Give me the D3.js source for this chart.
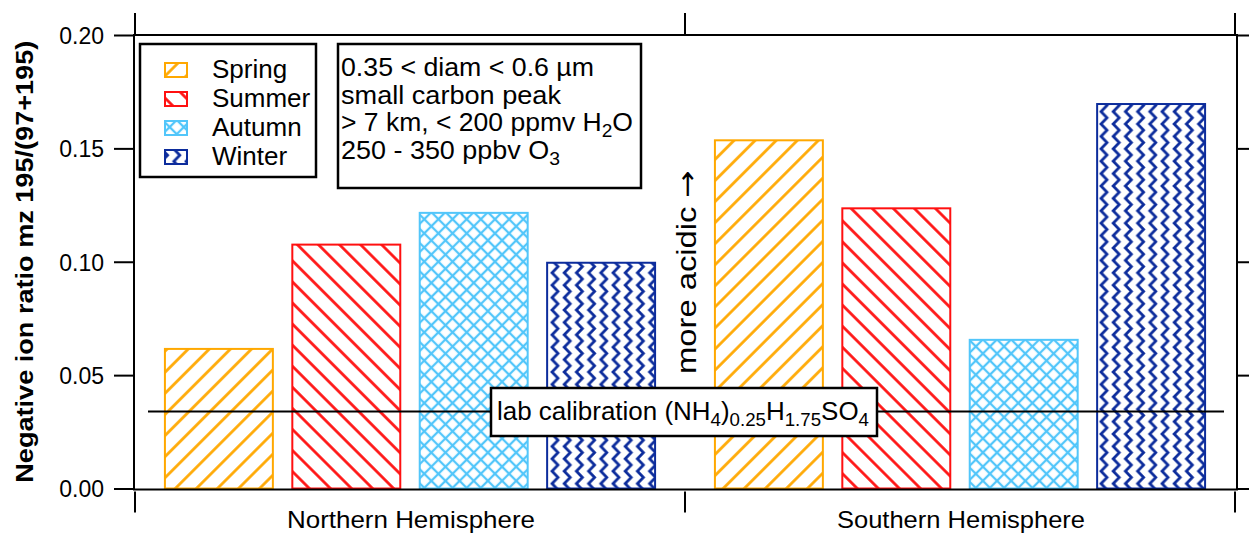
<!DOCTYPE html>
<html>
<head>
<meta charset="utf-8">
<script src="https://cdn.jsdelivr.net/npm/d3@7"></script>
<style>
  body { margin: 0; background: #fff; }
  svg { display: block; }
  text { font-family: "Liberation Sans", Arial, Helvetica, sans-serif; fill: #000; }
</style>
</head>
<body>
<svg id="chart" width="1249" height="534"></svg>
<script>
// ---- data ----
const hemispheres = ["Northern Hemisphere", "Southern Hemisphere"];
const seasons = ["Spring", "Summer", "Autumn", "Winter"];
const northernRatio = [0.062, 0.108, 0.122, 0.100];
const southernRatio = [0.154, 0.124, 0.066, 0.170];
const yTickValues = [0, 0.05, 0.10, 0.15, 0.20];
const yTickLabels = ["0.00", "0.05", "0.10", "0.15", "0.20"];
const calibrationRatio = 0.034;
const selectionNotes = [
  [["0.35 < diam < 0.6 µm", false]],
  [["small carbon peak", false]],
  [["> 7 km, < 200 ppmv H", false], ["2", true], ["O", false]],
  [["250 - 350 ppbv O", false], ["3", true]]
];
const calibrationLabel = [["lab calibration (NH", false], ["4", true], [")", false],
  ["0.25", true], ["H", false], ["1.75", true], ["SO", false], ["4", true]];

// ---- styling ----
const seasonColors = ["#FFA800", "#FF1010", "#52C6FA", "#0C2C9C"];
const seasonPatterns = ["hatch-up", "hatch-down", "cross", "zigzag"];

const svg = d3.select("#chart");
const frame = { left: 134, right: 1237, top: 35, bottom: 489.5 };

const x0 = d3.scaleBand().domain(hemispheres).range([135, 1235]).padding(0);
const x1 = d3.scaleBand().domain(seasons).range([0, x0.bandwidth()])
  .paddingInner(0.137).paddingOuter(0.227);
const y = d3.scaleLinear().domain([0, 0.2]).range([488.5, 35]);

const rows = [];
hemispheres.forEach((h, hi) => {
  const vals = hi === 0 ? northernRatio : southernRatio;
  seasons.forEach((s, si) => rows.push({ hemisphere: h, season: s, value: vals[si], idx: si }));
});

// ---- fill patterns ----
const defs = svg.append("defs");
function linePattern(id, color, spacing, angle, width) {
  const p = defs.append("pattern").attr("id", id)
    .attr("patternUnits", "userSpaceOnUse")
    .attr("width", spacing).attr("height", spacing)
    .attr("patternTransform", `rotate(${angle})`);
  p.append("line").attr("x1", spacing / 2).attr("x2", spacing / 2)
    .attr("y1", -1).attr("y2", spacing + 1)
    .attr("stroke", color).attr("stroke-width", width);
  return p;
}
linePattern("hatch-up", seasonColors[0], 14.9, 45, 2.7);
linePattern("hatch-down", seasonColors[1], 14.9, -45, 2.7);
{
  const s = 10;
  const p = defs.append("pattern").attr("id", "cross")
    .attr("patternUnits", "userSpaceOnUse")
    .attr("width", s).attr("height", s)
    .attr("patternTransform", "rotate(45)");
  p.append("line").attr("x1", s / 2).attr("x2", s / 2).attr("y1", -1).attr("y2", s + 1)
    .attr("stroke", seasonColors[2]).attr("stroke-width", 2.3);
  p.append("line").attr("y1", s / 2).attr("y2", s / 2).attr("x1", -1).attr("x2", s + 1)
    .attr("stroke", seasonColors[2]).attr("stroke-width", 2.3);
}
{
  const w = 12.2, h = 12.4;
  const p = defs.append("pattern").attr("id", "zigzag")
    .attr("patternUnits", "userSpaceOnUse")
    .attr("width", w).attr("height", h);
  p.append("path")
    .attr("d", `M9,${-h / 2} L3,0 L9,${h / 2} L3,${h} L9,${h * 1.5}`)
    .attr("fill", "none").attr("stroke", seasonColors[3])
    .attr("stroke-width", 2.8).attr("stroke-linejoin", "miter");
}

// ---- bars ----
svg.append("g").selectAll("rect").data(rows).join("rect")
  .attr("x", d => x0(d.hemisphere) + x1(d.season) + 1)
  .attr("y", d => y(d.value) + 1)
  .attr("width", x1.bandwidth() - 2)
  .attr("height", d => y(0) - y(d.value) - 1)
  .attr("fill", d => `url(#${seasonPatterns[d.idx]})`)
  .attr("stroke", d => seasonColors[d.idx])
  .attr("stroke-width", 2);

// ---- frame and axes ----
svg.append("rect")
  .attr("x", frame.left).attr("y", frame.top)
  .attr("width", frame.right - frame.left).attr("height", frame.bottom - frame.top)
  .attr("fill", "none").attr("stroke", "#000").attr("stroke-width", 2);

const yAxis = d3.axisLeft(y).tickValues(yTickValues)
  .tickFormat((d, i) => yTickLabels[i]).tickSize(20).tickPadding(10).tickSizeOuter(0);
const gy = svg.append("g").attr("transform", `translate(${frame.left},0)`).call(yAxis);
gy.select(".domain").remove();
gy.selectAll(".tick line").attr("stroke", "#000").attr("stroke-width", 2);
gy.selectAll(".tick text").style("font-size", "23px").attr("dy", "0.36em");

const yAxisRight = d3.axisRight(y).tickValues(yTickValues).tickFormat("").tickSize(14).tickSizeOuter(0);
const gyr = svg.append("g").attr("transform", `translate(${frame.right},0)`).call(yAxisRight);
gyr.select(".domain").remove();
gyr.selectAll(".tick line").attr("stroke", "#000").attr("stroke-width", 2);

// category boundary ticks, top and bottom
const boundaries = [x0.range()[0], ...hemispheres.map(h => x0(h) + x0.bandwidth())];
svg.append("g").selectAll("line").data(boundaries).join("line")
  .attr("x1", d => d).attr("x2", d => d)
  .attr("y1", frame.bottom + 2).attr("y2", frame.bottom + 23)
  .attr("stroke", "#000").attr("stroke-width", 2);
svg.append("g").selectAll("line").data(boundaries).join("line")
  .attr("x1", d => d).attr("x2", d => d)
  .attr("y1", frame.top - 1).attr("y2", frame.top - 22)
  .attr("stroke", "#000").attr("stroke-width", 2);

svg.append("g").selectAll("text").data(hemispheres).join("text")
  .attr("x", d => x0(d) + x0.bandwidth() / 2 + 1)
  .attr("y", 528)
  .attr("text-anchor", "middle")
  .attr("textLength", 248).attr("lengthAdjust", "spacingAndGlyphs")
  .style("font-size", "24px")
  .text(d => d);

svg.append("text")
  .attr("transform", `translate(33,${(y(0) + y(0.2)) / 2}) rotate(-90)`)
  .attr("text-anchor", "middle")
  .attr("textLength", 442).attr("lengthAdjust", "spacingAndGlyphs")
  .style("font-size", "24.5px").style("font-weight", "bold")
  .text("Negative ion ratio mz 195/(97+195)");

// ---- helper for text runs with subscripts ----
function richText(sel, runs, size, subSize, shift) {
  let down = false;
  runs.forEach(([t, sub]) => {
    const ts = sel.append("tspan").text(t);
    if (sub && !down) { ts.attr("dy", shift); down = true; }
    else if (!sub && down) { ts.attr("dy", -shift); down = false; }
    ts.style("font-size", (sub ? subSize : size) + "px");
  });
}

// ---- calibration line and label ----
const yc = y(calibrationRatio);
svg.append("line").attr("x1", 148).attr("x2", 1224).attr("y1", yc).attr("y2", yc)
  .attr("stroke", "#000").attr("stroke-width", 2);
svg.append("rect").attr("x", 491).attr("y", 388).attr("width", 386).attr("height", 48)
  .attr("fill", "#fff").attr("stroke", "#000").attr("stroke-width", 2.5);
const calText = svg.append("text").attr("x", 497).attr("y", 420)
  .attr("textLength", 372).attr("lengthAdjust", "spacingAndGlyphs");
richText(calText, calibrationLabel, 25, 18, 6);

// ---- "more acidic" annotation ----
const acid = svg.append("text")
  .attr("transform", "translate(696,272) rotate(-90)")
  .attr("text-anchor", "middle")
  .attr("textLength", 204).attr("lengthAdjust", "spacingAndGlyphs")
  .style("font-size", "27px");
acid.append("tspan").text("more acidic ");
acid.append("tspan").style("font-family", "'DejaVu Sans', sans-serif").style("font-size", "27px").text("\u2192");

// ---- legend ----
const legend = svg.append("g");
legend.append("rect").attr("x", 140).attr("y", 44).attr("width", 176).attr("height", 133)
  .attr("fill", "#fff").attr("stroke", "#000").attr("stroke-width", 2.5);
const legRow = legend.selectAll("g.row").data(seasons).join("g").attr("class", "row")
  .attr("transform", (d, i) => `translate(0,${62 + i * 29})`);
legRow.append("rect").attr("x", 165).attr("y", 1).attr("width", 22).attr("height", 14)
  .attr("fill", (d, i) => `url(#${seasonPatterns[i]})`)
  .attr("stroke", (d, i) => seasonColors[i]).attr("stroke-width", 2);
legRow.append("text").attr("x", 212).attr("y", 16).style("font-size", "26px").text(d => d);

// ---- selection criteria box ----
svg.append("rect").attr("x", 338).attr("y", 44).attr("width", 303).attr("height", 144)
  .attr("fill", "#fff").attr("stroke", "#000").attr("stroke-width", 2.5);
const noteWidths = [253, 220, 292, 219];
selectionNotes.forEach((runs, i) => {
  const t = svg.append("text").attr("x", 341).attr("y", 76 + i * 27.7)
    .attr("textLength", noteWidths[i]).attr("lengthAdjust", "spacingAndGlyphs");
  richText(t, runs, 25, 18, 6);
});
</script>
</body>
</html>
